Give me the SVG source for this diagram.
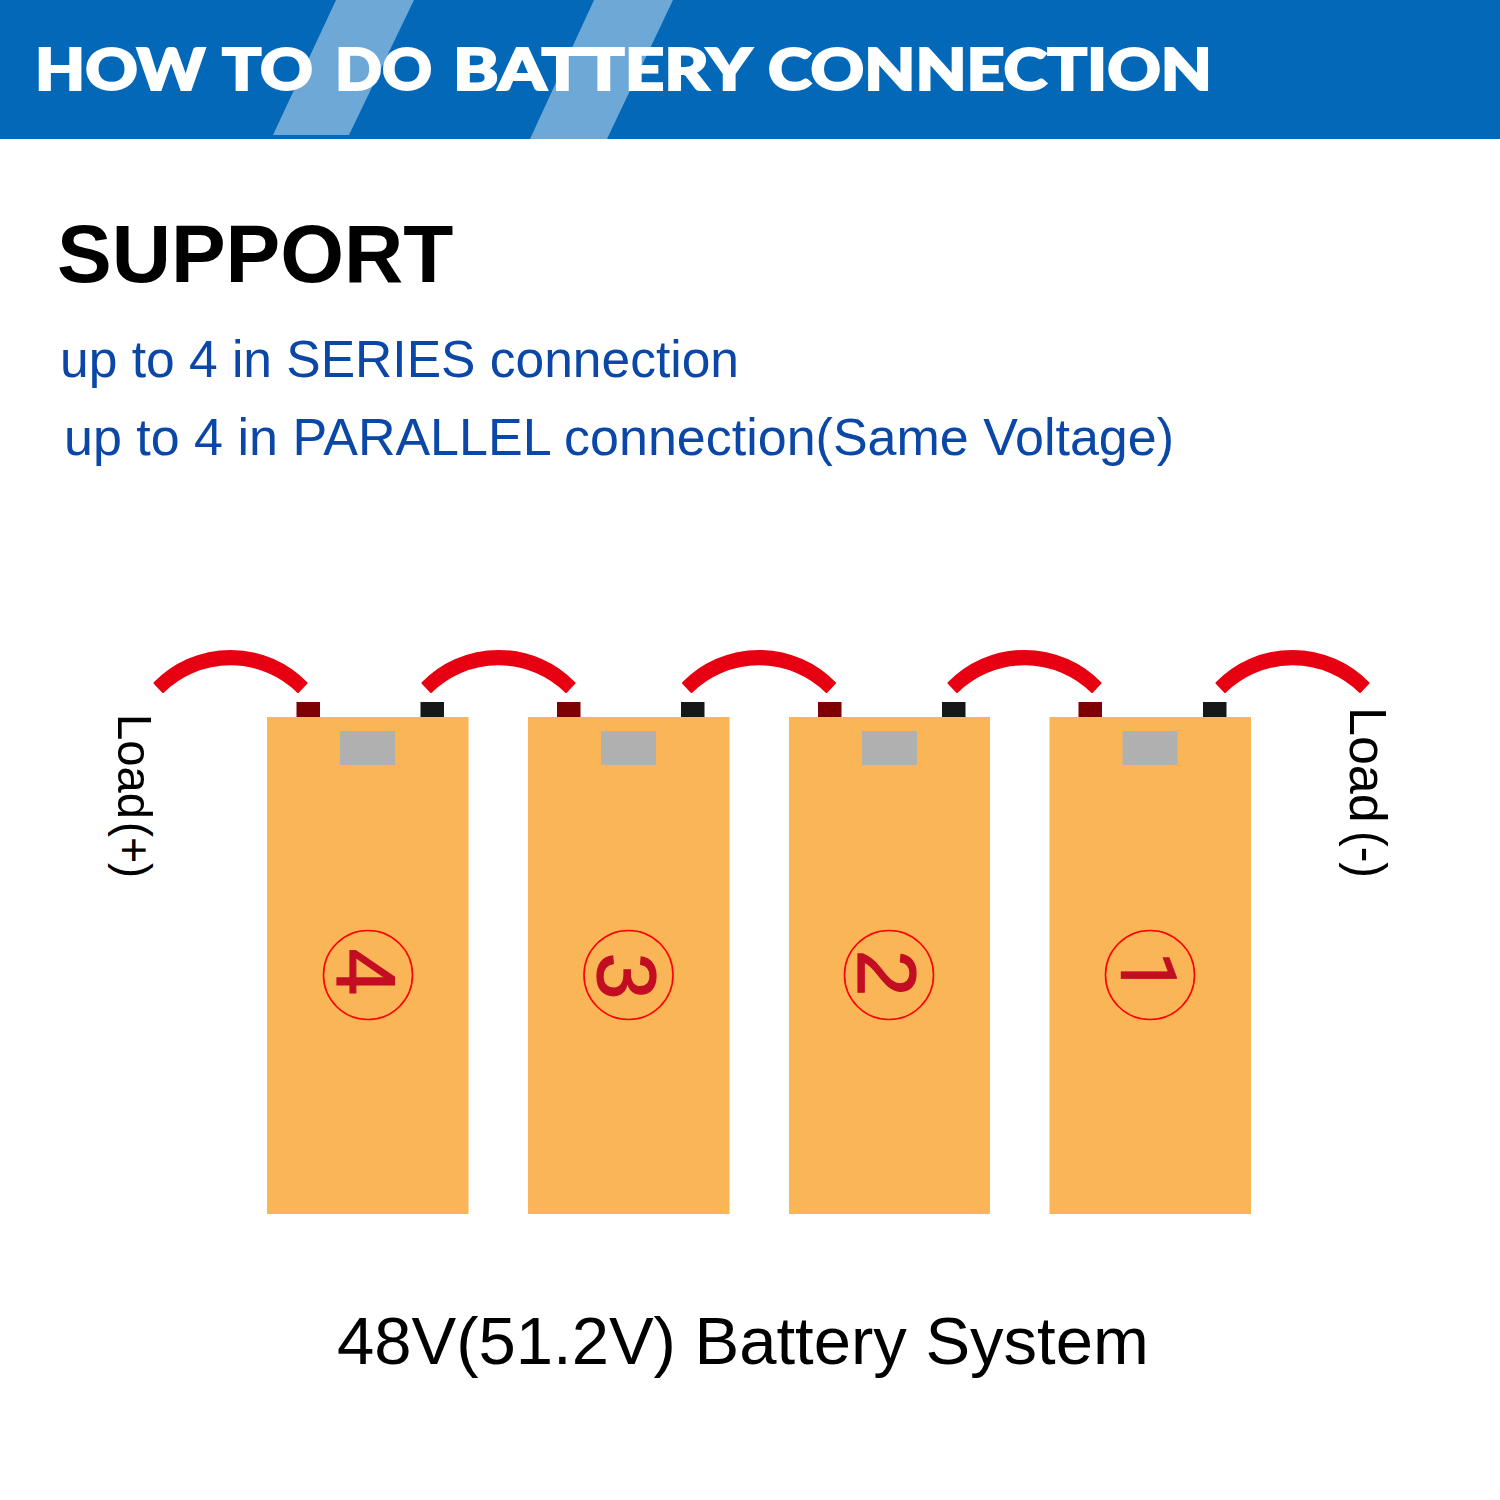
<svg xmlns="http://www.w3.org/2000/svg" width="1500" height="1500" viewBox="0 0 1500 1500">
  <style>
    text { font-family: "Liberation Sans", Arial, sans-serif; }
    .title { font-family: "Lato", "Open Sans", sans-serif; font-weight: 900; font-size: 58px; fill: #ffffff; stroke: #ffffff; stroke-width: 2; }
    .sub { font-size: 51.500px; fill: #0b47a6; }
    .case { fill: #f9b556; }
    .pos { fill: #7f0000; }
    .neg { fill: #171717; }
    .label { fill: #b0b0b0; }
    .ring { fill: none; stroke: #ff0000; stroke-width: 1.6; }
    .num { font-size: 84px; fill: #c30d23; stroke: #c30d23; stroke-width: 1.2; text-anchor: middle; }
    .wire { fill: #e60012; stroke: #e60012; stroke-width: 2; stroke-linejoin: round; }
  </style>
  <defs>
    <!-- Jumper cable, centred on x=0 so each copy only needs a shift along the row -->
    <path id="jumper" class="wire" d="M-76,683 A106,106 0 0 1 76,683 L67.500,692 A96,96 0 0 0 -67.500,692 Z"/>
  </defs>
  <rect width="1500" height="1500" fill="#ffffff"/>

  <g id="banner">
    <rect x="0" y="0" width="1500" height="139" fill="#0268b7"/>
    <polygon points="336,0 414,0 349,135 273,135" fill="#6ea8d7"/>
    <polygon points="594,0 673,0 607,139 530,139" fill="#6ea8d7"/>
    <text class="title" y="90"><tspan x="35" textLength="170" lengthAdjust="spacingAndGlyphs">HOW</tspan> <tspan x="222" textLength="91" lengthAdjust="spacingAndGlyphs">TO</tspan> <tspan x="335" textLength="97" lengthAdjust="spacingAndGlyphs">DO</tspan> <tspan x="453" textLength="296" lengthAdjust="spacingAndGlyphs">BATTERY</tspan> <tspan x="768" textLength="444" lengthAdjust="spacingAndGlyphs">CONNECTION</tspan></text>
  </g>

  <text x="57" y="282" font-size="82" font-weight="700" fill="#000000">SUPPORT</text>
  <text class="sub" x="60" y="377" textLength="679" lengthAdjust="spacingAndGlyphs">up to 4 in SERIES connection</text>
  <text class="sub" x="64" y="455" textLength="1110" lengthAdjust="spacingAndGlyphs">up to 4 in PARALLEL connection(Same Voltage)</text>

  <g id="connectors">
    <use href="#jumper" x="230.500"/>
    <use href="#jumper" x="498.500"/>
    <use href="#jumper" x="759"/>
    <use href="#jumper" x="1024.500"/>
    <use href="#jumper" x="1292.500"/>
  </g>

  <g id="battery-4">
    <rect class="case" x="267" y="717" width="201.500" height="497"/>
    <rect class="pos" x="296.500" y="702" width="23.500" height="15"/>
    <rect class="neg" x="420.500" y="702" width="23.500" height="15"/>
    <rect class="label" x="340" y="731" width="55" height="34"/>
    <circle class="ring" cx="368" cy="975" r="44.500"/>
    <text class="num" transform="translate(367,972) rotate(90) translate(0,30)">4</text>
  </g>
  <g id="battery-3">
    <rect class="case" x="528" y="717" width="201.500" height="497"/>
    <rect class="pos" x="557" y="702" width="23.500" height="15"/>
    <rect class="neg" x="681" y="702" width="23.500" height="15"/>
    <rect class="label" x="601" y="731" width="55" height="34"/>
    <circle class="ring" cx="628.500" cy="975" r="44.500"/>
    <text class="num" transform="translate(627.500,976) rotate(90) translate(0,30)">3</text>
  </g>
  <g id="battery-2">
    <rect class="case" x="789" y="717" width="201" height="497"/>
    <rect class="pos" x="818" y="702" width="23.500" height="15"/>
    <rect class="neg" x="942" y="702" width="23.500" height="15"/>
    <rect class="label" x="862" y="731" width="55" height="34"/>
    <circle class="ring" cx="889" cy="975" r="44.500"/>
    <text class="num" transform="translate(888,973) rotate(90) translate(0,30)">2</text>
  </g>
  <g id="battery-1">
    <rect class="case" x="1049.500" y="717" width="201.500" height="497"/>
    <rect class="pos" x="1078.500" y="702" width="23.500" height="15"/>
    <rect class="neg" x="1203" y="702" width="23.500" height="15"/>
    <rect class="label" x="1122.500" y="731" width="55" height="34"/>
    <circle class="ring" cx="1150" cy="975" r="44.500"/>
    <text class="num" style="font-family:Roboto,sans-serif;font-size:78px;stroke-width:0.4" transform="translate(1149,973) rotate(90) translate(0,28)">1</text>
  </g>

  <text font-size="49" fill="#000000" transform="translate(118,714) rotate(90)"><tspan x="0" textLength="105" lengthAdjust="spacingAndGlyphs">Load</tspan><tspan x="108" textLength="56" lengthAdjust="spacingAndGlyphs">(+)</tspan></text>
  <text font-size="52" fill="#000000" transform="translate(1350,707) rotate(90)"><tspan x="0">Load</tspan><tspan x="124" textLength="47" lengthAdjust="spacingAndGlyphs">(-)</tspan></text>

  <text x="337" y="1364" font-size="67" fill="#000000">48V(51.2V) Battery System</text>
</svg>
